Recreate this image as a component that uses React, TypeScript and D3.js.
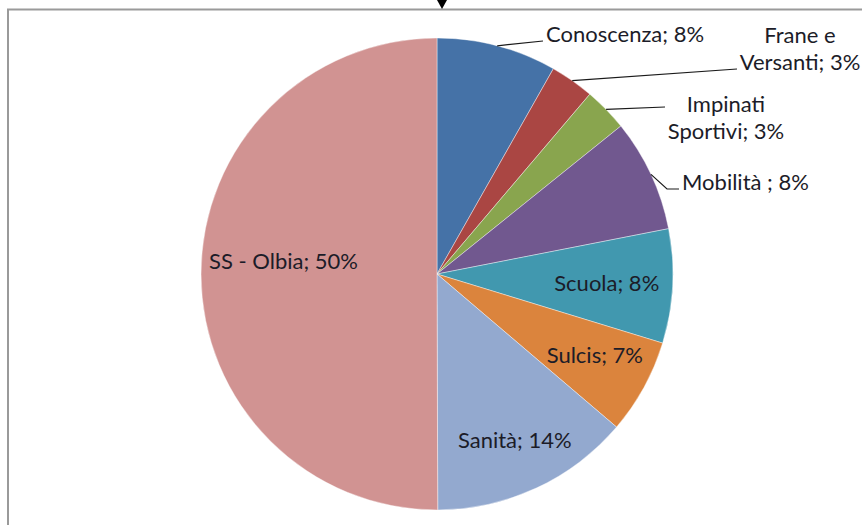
import React from "react";
import * as d3 from "d3";

const categories = ["Conoscenza", "Frane e Versanti", "Impinati Sportivi", "Mobilità ", "Scuola", "Sulcis", "Sanità", "SS - Olbia"];
const values = [8.2, 3.0, 3.0, 7.7, 7.8, 6.5, 13.7, 50.0];
const percentLabels = ["8%", "3%", "3%", "8%", "8%", "7%", "14%", "50%"];
const colors = ["#4572A7", "#AA4643", "#89A54E", "#71588F", "#4198AF", "#DB843D", "#93A9CF", "#D19392"];

const W = 862;
const H = 525;
const CX = 437;
const CY = 274;
const R = 236;
const FONT = "Lato, 'Open Sans', sans-serif";
const FS = 22;
const LH = 27;

// label layout: inside labels by radius + dy; outside labels with explicit text box & leader end
type Layout =
  | { kind: "in"; r: number; dy: number }
  | { kind: "out"; anchor: "start" | "middle"; x: number; y: number; lines: number; lx: number; ly: number; bend?: [number, number] };

const layout: Layout[] = [
  { kind: "out", anchor: "start", x: 546, y: 42, lines: 1, lx: 543, ly: 41 },
  { kind: "out", anchor: "middle", x: 800, y: 43, lines: 2, lx: 737, ly: 69 },
  { kind: "out", anchor: "middle", x: 726, y: 112, lines: 2, lx: 665, ly: 107 },
  { kind: "out", anchor: "start", x: 682, y: 190, lines: 1, lx: 679, ly: 189, bend: [667, 189] },
  { kind: "in", r: 170, dy: 0 },
  { kind: "in", r: 180, dy: -5 },
  { kind: "in", r: 185, dy: -2 },
  { kind: "in", r: 153.5, dy: -13 },
];

function splitLabel(name: string, pct: string, lines: number): string[] {
  const full = `${name}; ${pct}`;
  if (lines === 1) return [full];
  const words = name.split(" ");
  const first = words.slice(0, words.length - 1).join(" ");
  const last = words[words.length - 1];
  if (first === "Frane") return ["Frane e", `Versanti; ${pct}`];
  return [first, `${last}; ${pct}`];
}

export default function App() {
  const pie = d3.pie<number>().sort(null).startAngle(0).endAngle(2 * Math.PI)(values);
  const arc = d3.arc<d3.PieArcDatum<number>>().innerRadius(0).outerRadius(R);

  return (
    <svg width={W} height={H} style={{ position: "absolute", left: 0, top: 0, background: "#fff" }}>
      <rect x={8} y={9.5} width={W + 10} height={H + 10} fill="#fff" stroke="#9a9a9a" strokeWidth={2} />
      <path d={`M437,0 L447,0 L442,9 Z`} fill="#000" />
      <g transform={`translate(${CX},${CY})`}>
        {pie.map((p, i) => (
          <path key={i} d={arc(p) || ""} fill={colors[i]} stroke="#ffffff" strokeOpacity={0.5} strokeWidth={0.8} />
        ))}
      </g>
      {pie.map((p, i) => {
        const L = layout[i];
        const mid = (p.startAngle + p.endAngle) / 2;
        if (L.kind === "in") {
          const x = CX + L.r * Math.sin(mid);
          const y = CY - L.r * Math.cos(mid) + L.dy + FS * 0.36;
          return (
            <text key={i} x={x} y={y} textAnchor="middle" fontFamily={FONT} fontSize={FS} fill="#1c1c28">
              {`${categories[i]}; ${percentLabels[i]}`}
            </text>
          );
        }
        const ex = CX + R * Math.sin(mid);
        const ey = CY - R * Math.cos(mid);
        const pts = L.bend ? `${ex},${ey} ${L.bend[0]},${L.bend[1]} ${L.lx},${L.ly}` : `${ex},${ey} ${L.lx},${L.ly}`;
        const lines = splitLabel(categories[i], percentLabels[i], L.lines);
        return (
          <g key={i}>
            <polyline points={pts} fill="none" stroke="#1a1a1a" strokeWidth={1.2} />
            <text x={L.x} y={L.y} textAnchor={L.anchor} fontFamily={FONT} fontSize={FS} fill="#1c1c28">
              {lines.map((t, j) => (
                <tspan key={j} x={L.x} dy={j === 0 ? 0 : LH}>
                  {t}
                </tspan>
              ))}
            </text>
          </g>
        );
      })}
    </svg>
  );
}
